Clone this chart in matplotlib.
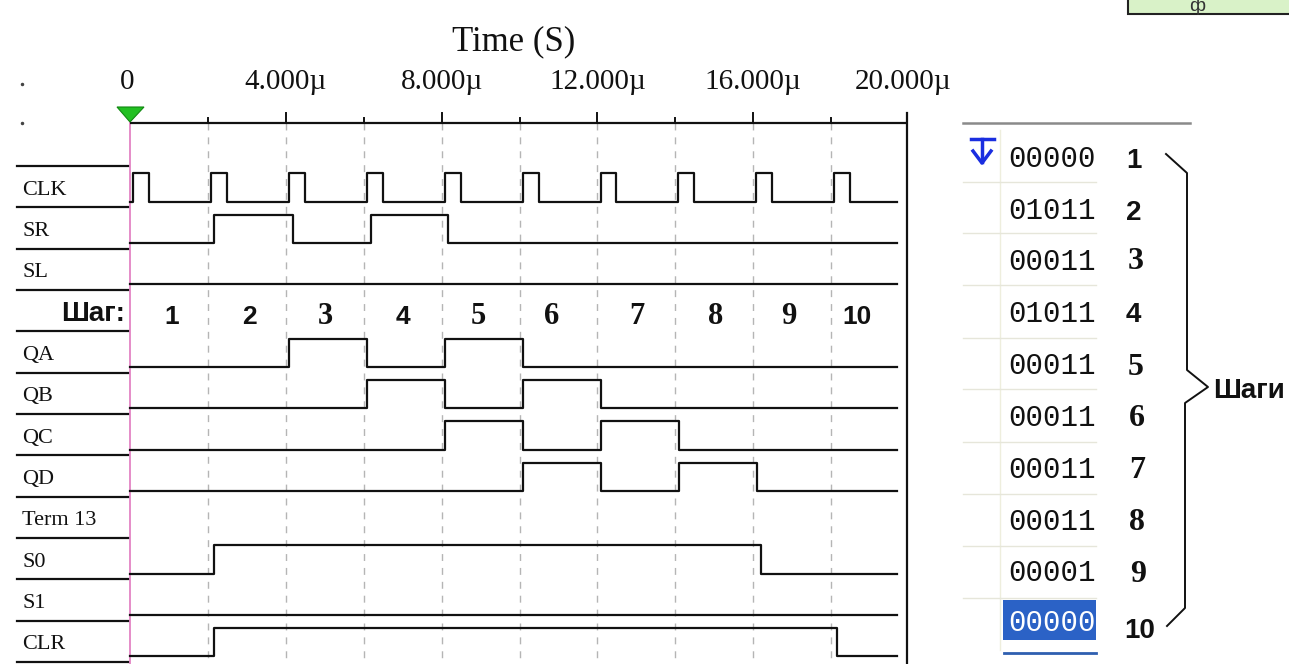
import matplotlib
matplotlib.use("Agg")
import matplotlib.pyplot as plt
from matplotlib.patches import Rectangle, Polygon

W, H = 1289, 664

# ---------------- data ----------------
tick_values = [0, 4000, 8000, 12000, 16000, 20000]
tick_labels = ["0", "4.000µ", "8.000µ", "12.000µ", "16.000µ", "20.000µ"]
minor_ticks = [2000, 6000, 10000, 14000, 18000]
grid_times = [2000, 4000, 6000, 8000, 10000, 12000, 14000, 16000, 18000]

row_names = ["CLK", "SR", "SL", "Шаг:", "QA", "QB", "QC", "QD", "Term 13", "S0", "S1", "CLR"]

clk_edges = [80, 490, 2080, 2490, 4080, 4490, 6080, 6490, 8080, 8490,
             10080, 10490, 12080, 12490, 14080, 14490, 16080, 16490, 18080, 18490]
sr_edges = [2160, 4180, 6180, 8160]
sl_edges = []
qa_edges = [4090, 6090, 8090, 10090]
qb_edges = [6090, 8090, 10090, 12090]
qc_edges = [8090, 10090, 12090, 14090]
qd_edges = [10090, 12090, 14090, 16090]
s0_edges = [2160, 16190]
s1_edges = []
clr_edges = [2160, 18150]
t_end = 19700

step_numbers = ["1", "2", "3", "4", "5", "6", "7", "8", "9", "10"]
table_codes = ["00000", "01011", "00011", "01011", "00011",
               "00011", "00011", "00011", "00001", "00000"]

# ---------------- figure / scales ----------------
fig = plt.figure(figsize=(W / 100, H / 100), dpi=100)
fig.patch.set_facecolor("white")
ax = fig.add_axes([0, 0, 1, 1])
ax.axis("off")

X0, X20 = 130.0, 909.0          # pixel x of t=0 and t=20000
px_per_t = (X20 - X0) / 20000.0
ax.set_xlim(-X0 / px_per_t, (W - X0) / px_per_t)
ROW_TOP, ROW_H = 166.0, (662.0 - 166.0) / 12
ax.set_ylim((H - ROW_TOP) / ROW_H, (0 - ROW_TOP) / ROW_H)


def P(x, y):
    """pixel -> axes fraction"""
    return x / W, 1 - y / H


def yrow(py):
    return (py - ROW_TOP) / ROW_H


TA = ax.transAxes
serif = "Liberation Serif"
sans = "Liberation Sans"
mono = "Liberation Mono"

# ---------------- time axis ----------------
y_axis = yrow(123)
x_frame = (907 - X0) / px_per_t
ax.plot([0, x_frame], [y_axis, y_axis], color="#111111", lw=1.6, solid_capstyle="butt", zorder=4)
for tv in tick_values[1:-1]:
    ax.plot([tv, tv], [y_axis, yrow(113)], color="#111111", lw=1.4, zorder=4)
for tv in minor_ticks:
    ax.plot([tv, tv], [y_axis, yrow(118)], color="#111111", lw=1.4, zorder=4)
# right frame line
ax.plot([x_frame, x_frame], [yrow(113), yrow(664)], color="#111111", lw=1.6, zorder=4)

for tv, tl in zip(tick_values, tick_labels):
    xx = tv if tv < 20000 else 19850
    if tv == 0:
        xx = -80
    ax.text(xx, yrow(89), tl, ha="center", va="baseline", fontsize=21,
            family=serif, color="#111111")

ax.text(*P(514, 50), "Time (S)", transform=TA, ha="center", va="baseline",
        fontsize=25, family=serif, color="#111111")

# grid dashed lines
for g in grid_times:
    ax.plot([g, g], [y_axis, yrow(664)], color="#b5b5b5", lw=1.0,
            dashes=(5, 5), zorder=1)

# cursor line + marker
ax.plot([0, 0], [yrow(120), yrow(664)], color="#e58cc8", lw=1.4, zorder=3)
ax.add_patch(Polygon([P(117, 107), P(144, 107), P(130, 122)], closed=True,
                     transform=TA, facecolor="#22c022", edgecolor="#118811", lw=0.8, zorder=5))

# ---------------- left labels / separators ----------------
for i in range(13):
    py = ROW_TOP + i * ROW_H
    ax.plot([P(17, 0)[0], P(128, 0)[0]], [1 - py / H] * 2, transform=TA,
            color="#111111", lw=1.6, zorder=4)

for i, name in enumerate(row_names):
    cy = ROW_TOP + (i + 0.5) * ROW_H
    if name == "Шаг:":
        ax.text(*P(125, cy + 10), name, transform=TA, ha="right", va="baseline",
                fontsize=20, family=sans, fontweight="bold", color="#111111")
    else:
        ax.text(*P(22, cy + 8), name, transform=TA, ha="left", va="baseline",
                fontsize=16, family=serif, color="#111111")

# ---------------- waveforms ----------------
signals = [(0, clk_edges), (1, sr_edges), (2, sl_edges), (4, qa_edges), (5, qb_edges),
           (6, qc_edges), (7, qd_edges), (9, s0_edges), (10, s1_edges), (11, clr_edges)]
for row, edges in signals:
    xs = [0] + list(edges) + [t_end]
    lv = [0]
    for _ in edges:
        lv.append(1 - lv[-1])
    lv.append(lv[-1])
    ys = [row + (0.18 if v else 0.86) for v in lv]
    ax.step(xs, ys, where="post", color="#111111", lw=1.6, zorder=3)

# step numbers
step_x = [172, 249, 325, 403, 478, 552, 637, 716, 789, 857]
serif_digits = {"3", "5", "6", "7", "8", "9"}
for sx, s in zip(step_x, step_numbers):
    fam = serif if s in serif_digits else sans
    size = 22 if s in serif_digits else 19
    ax.text(*P(sx, 324), s, transform=TA, ha="center", va="baseline",
            fontsize=size, family=fam, fontweight="bold", color="#111111")

# ---------------- right table ----------------
ax.plot([P(963, 0)[0], P(1190, 0)[0]], [1 - 123 / H] * 2, transform=TA,
        color="#8a8a8a", lw=1.8)
ax.plot([P(1000, 0)[0]] * 2, [1 - 130 / H, 1 - 650 / H], transform=TA,
        color="#eeeedd", lw=1.0)
for ly in [182, 233, 285, 338, 389, 442, 494, 546, 598]:
    ax.plot([P(963, 0)[0], P(1096, 0)[0]], [1 - ly / H] * 2, transform=TA,
            color="#e6e6da", lw=1.0)

# blue icon
ax.plot([P(971, 0)[0], P(994, 0)[0]], [1 - 139 / H] * 2, transform=TA, color="#1a2ee0", lw=2.5)
ax.plot([P(982, 0)[0]] * 2, [1 - 139 / H, 1 - 162 / H], transform=TA, color="#1a2ee0", lw=2.5)
ax.plot([P(973, 0)[0], P(982, 0)[0], P(991, 0)[0]], [1 - 151 / H, 1 - 163 / H, 1 - 151 / H],
        transform=TA, color="#1a2ee0", lw=2.5)

row_y = [157, 209, 260, 312, 364, 416, 468, 520, 571, 621]
ax.add_patch(Rectangle(P(1003, 640), 93 / W, 40 / H, transform=TA,
                       facecolor="#2b62c6", edgecolor="none", zorder=2))
ax.plot([P(1004, 0)[0], P(1096, 0)[0]], [1 - 653 / H] * 2, transform=TA, color="#2f5fb0", lw=2)
for i, (ry, code) in enumerate(zip(row_y, table_codes)):
    col = "white" if i == len(table_codes) - 1 else "#111111"
    ax.text(*P(1008, ry + 10), code, transform=TA, ha="left", va="baseline",
            fontsize=21, family=mono, color=col, zorder=3)

num_y = [168, 220, 269, 322, 375, 426, 478, 530, 582, 638]
num_x = [1134, 1134, 1136, 1133, 1136, 1137, 1137, 1137, 1138, 1140]
for nx, ny, s in zip(num_x, num_y, step_numbers):
    fam = serif if s in serif_digits else sans
    size = 23 if s in serif_digits else 20
    ax.text(*P(nx, ny), s, transform=TA, ha="center", va="baseline",
            fontsize=size, family=fam, fontweight="bold", color="#111111")

# brace
brace_px = [(1166, 154), (1187, 173), (1187, 370), (1208, 387), (1185, 403),
            (1185, 608), (1167, 626)]
ax.plot([P(x, y)[0] for x, y in brace_px], [P(x, y)[1] for x, y in brace_px],
        transform=TA, color="#111111", lw=1.4)
ax.text(*P(1213, 398), "Шаги", transform=TA, ha="left", va="baseline",
        fontsize=20, family=sans, fontweight="bold", color="#111111")

# top-right partial box
ax.add_patch(Rectangle(P(1128, 14), 200 / W, 20 / H, transform=TA,
                       facecolor="#d9f2c8", edgecolor="#222222", lw=1.5, clip_on=False))
ax.text(*P(1197, 11), "ф", transform=TA, ha="center", va="baseline", fontsize=14,
        family=sans, color="#333333")

# small dots on left
for dy in [84, 123]:
    ax.plot([P(22, dy)[0]], [P(22, dy)[1]], transform=TA, marker="o", ms=1.5,
            color="#444444")

fig.savefig("out.png", dpi=100, facecolor="white")
